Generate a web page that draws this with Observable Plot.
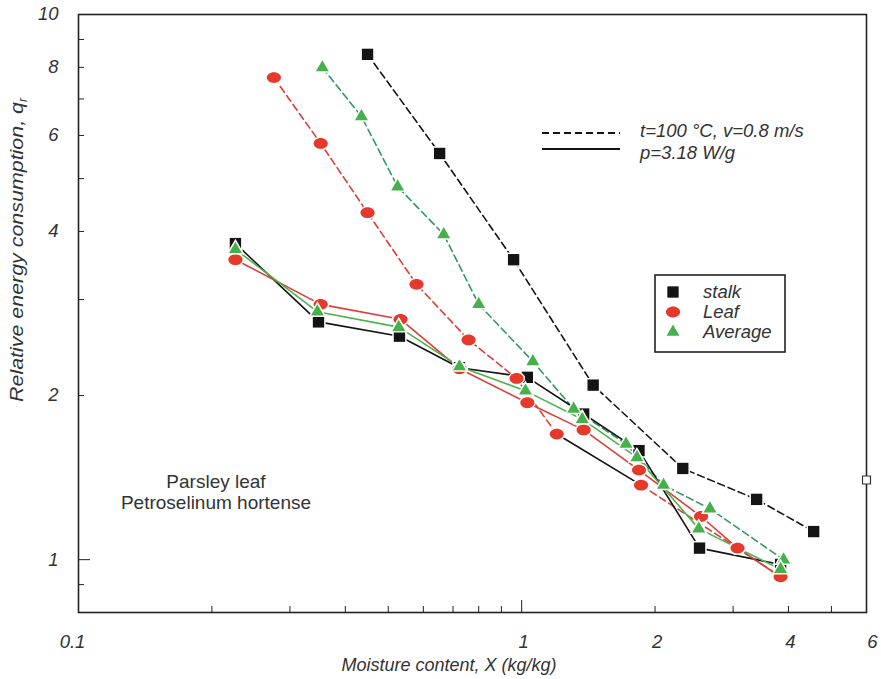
<!DOCTYPE html>
<html><head><meta charset="utf-8">
<script src="https://cdn.jsdelivr.net/npm/d3@7"></script>
<script src="https://cdn.jsdelivr.net/npm/@observablehq/plot@0.6"></script>
<style>body{margin:0;background:#fff} #chart{width:881px;height:679px}</style>
</head><body><div id="chart"></div>
<script>
// ---- data ----
const stalkSolidX = [0.226, 0.348, 0.530, 0.724, 1.03, 1.38, 1.84, 2.52, 3.84];
const stalkSolidY = [3.80, 2.73, 2.57, 2.25, 2.16, 1.85, 1.585, 1.05, 0.98];
const leafSolidX  = [0.226, 0.352, 0.533, 0.724, 1.03, 1.38, 1.84, 2.54, 3.07, 3.84];
const leafSolidY  = [3.55, 2.94, 2.76, 2.24, 1.94, 1.73, 1.46, 1.20, 1.05, 0.93];
const avgSolidX   = [0.226, 0.346, 0.528, 0.724, 1.02, 1.37, 1.82, 2.51, 3.84];
const avgSolidY   = [3.71, 2.85, 2.67, 2.26, 2.04, 1.81, 1.54, 1.14, 0.96];
const stalkDashedX = [0.449, 0.653, 0.959, 1.45, 2.31, 3.39, 4.56];
const stalkDashedY = [8.45, 5.56, 3.55, 2.09, 1.47, 1.29, 1.126];
const leafDashedX  = [0.276, 0.352, 0.449, 0.579, 0.759, 0.974, 1.20, 1.86, 3.07, 3.84];
const leafDashedY  = [7.66, 5.80, 4.33, 3.20, 2.53, 2.15, 1.70, 1.37, 1.05, 0.93];
const avgDashedX   = [0.355, 0.435, 0.525, 0.667, 0.800, 1.06, 1.31, 1.72, 2.09, 2.66, 3.90];
const avgDashedY   = [7.99, 6.50, 4.83, 3.95, 2.94, 2.31, 1.89, 1.63, 1.37, 1.24, 1.00];
const strayX = [6];
const strayY = [1.40];

const xTickLabelsLeft = [0.1];
const xTickLabelsMid = [1, 2, 4];
const xTickLabelsRight = [6];
const xMinorTicks = [0.2, 0.3, 0.4, 0.5, 0.6, 0.7, 0.8, 0.9, 2, 3, 4, 5];
const xMajorTicks = [1];
const yTickLabels = [1, 2, 4, 6, 8, 10];
const yMinorTicks = [0.9, 2, 3, 4, 5, 6, 7, 8, 9];
const yMajorTicks = [1];

const seriesNames = ["stalk", "Leaf", "Average"];
const lineLegend = ["t=100 \u00B0C, v=0.8 m/s", "p=3.18 W/g"];
const noteLines = ["Parsley leaf", "Petroselinum hortense"];
const xTitle = "Moisture content, X (kg/kg)";
const yTitle = "Relative energy consumption, q";
const yTitleSub = "r";

// ---- helpers ----
const pts = (xs, ys) => xs.map((x, i) => ({x, y: ys[i]}));
const BLACK = "#141414", RED = "#e5392c", REDLINE = "#dc3f36", GREEN = "#46b04c", GREENDASH = "#2f9a62", GREENLINE = "#4cb24f";
const FONT = "'Liberation Sans', Arial, sans-serif";
const TXT = "#333";

const ellipse = {
  draw(ctx, size) {
    const r = Math.sqrt(size / Math.PI), rx = r * 1.18, ry = r * 0.9, k = 0.5523;
    ctx.moveTo(rx, 0);
    ctx.bezierCurveTo(rx, ry * k, rx * k, ry, 0, ry);
    ctx.bezierCurveTo(-rx * k, ry, -rx, ry * k, -rx, 0);
    ctx.bezierCurveTo(-rx, -ry * k, -rx * k, -ry, 0, -ry);
    ctx.bezierCurveTo(rx * k, -ry, rx, -ry * k, rx, 0);
    ctx.closePath();
  }
};

const stalkSolid = pts(stalkSolidX, stalkSolidY);
const leafSolid = pts(leafSolidX, leafSolidY);
const avgSolid = pts(avgSolidX, avgSolidY);
const stalkDashed = pts(stalkDashedX, stalkDashedY);
const leafDashed = pts(leafDashedX, leafDashedY);
const avgDashed = pts(avgDashedX, avgDashedY);

const DASH = "7,4";
const halo = {stroke: "white", strokeWidth: 3, paintOrder: "stroke"};
const lblX = {tickSize: 0, tickPadding: 22, fontStyle: "italic", fontSize: 18.5, tickFormat: d => String(d), label: null, fill: TXT};

const chart = Plot.plot({
  width: 881, height: 679,
  marginLeft: 78, marginRight: 15, marginTop: 14, marginBottom: 67,
  x: {type: "log", domain: [0.1, 6]},
  y: {type: "log", domain: [0.8, 10]},
  style: {fontFamily: FONT, fontSize: "18px", color: TXT, background: "white"},
  marks: [
    Plot.axisX(xTickLabelsLeft, {...lblX, dx: -6}),
    Plot.axisX(xTickLabelsMid, {...lblX, dx: 2}),
    Plot.axisX(xTickLabelsRight, {...lblX, dx: 6}),
    Plot.axisX(xMinorTicks, {tickSize: -6, tickFormat: () => "", label: null, stroke: "#222"}),
    Plot.axisX(xMajorTicks, {tickSize: -12, tickFormat: () => "", label: null, stroke: "#222"}),
    Plot.axisY(yTickLabels, {tickSize: 0, tickPadding: 20, fontStyle: "italic", fontSize: 18.5, tickFormat: d => String(d), label: null, fill: TXT}),
    Plot.axisY(yMinorTicks, {tickSize: -6, tickFormat: () => "", label: null, stroke: "#222"}),
    Plot.axisY(yMajorTicks, {tickSize: -12, tickFormat: () => "", label: null, stroke: "#222"}),
    Plot.frame({stroke: "#222", strokeWidth: 1.6}),
    // dashed (convective) lines
    Plot.line(stalkDashed, {x: "x", y: "y", stroke: BLACK, strokeWidth: 1.6, strokeDasharray: DASH}),
    Plot.line(avgDashed, {x: "x", y: "y", stroke: GREENDASH, strokeWidth: 1.6, strokeDasharray: DASH}),
    Plot.line(leafDashed.slice(0, 7), {x: "x", y: "y", stroke: REDLINE, strokeWidth: 1.6, strokeDasharray: DASH}),
    Plot.line(leafDashed.slice(6, 8), {x: "x", y: "y", stroke: BLACK, strokeWidth: 1.6}),
    Plot.line(leafDashed.slice(7), {x: "x", y: "y", stroke: REDLINE, strokeWidth: 1.6, strokeDasharray: DASH}),
    // solid (microwave) lines
    Plot.line(stalkSolid, {x: "x", y: "y", stroke: BLACK, strokeWidth: 1.6}),
    Plot.line(leafSolid, {x: "x", y: "y", stroke: REDLINE, strokeWidth: 1.6}),
    Plot.line(avgSolid, {x: "x", y: "y", stroke: GREENLINE, strokeWidth: 1.6}),
    // markers
    Plot.dot(stalkDashed, {x: "x", y: "y", symbol: "square", r: 6.4, fill: BLACK, ...halo}),
    Plot.dot(stalkSolid, {x: "x", y: "y", symbol: "square", r: 6.4, fill: BLACK, ...halo}),
    Plot.dot(leafDashed, {x: "x", y: "y", symbol: ellipse, r: 6, fill: RED, ...halo}),
    Plot.dot(leafSolid, {x: "x", y: "y", symbol: ellipse, r: 6, fill: RED, ...halo}),
    Plot.dot(avgDashed, {x: "x", y: "y", symbol: "triangle", r: 4.8, fill: GREEN, ...halo}),
    Plot.dot(avgSolid, {x: "x", y: "y", symbol: "triangle", r: 4.8, fill: GREEN, ...halo}),
    Plot.dot(pts(strayX, strayY), {x: "x", y: "y", symbol: "square", r: 4.5, fill: "white", stroke: "#333", strokeWidth: 1.2})
  ]
});
document.getElementById("chart").appendChild(chart);

// ---- titles, legends and note (real SVG text) ----
const svg = d3.select(chart);
const g = svg.append("g").attr("font-family", FONT).attr("fill", TXT).attr("text-anchor", "start");

// x title
g.append("text").attr("x", 449).attr("y", 671).attr("text-anchor", "middle")
  .attr("font-size", 18).attr("font-style", "italic").text(xTitle);
// y title with subscript
const yt = g.append("text").attr("transform", "translate(23,250) rotate(-90)").attr("text-anchor", "middle")
  .attr("font-size", 19).attr("font-style", "italic");
yt.append("tspan").attr("textLength", 300).attr("lengthAdjust", "spacingAndGlyphs").text(yTitle);
yt.append("tspan").attr("font-size", 12).attr("dy", 4).text(yTitleSub);

// line style legend
const ll = g.append("g");
ll.append("line").attr("x1", 542).attr("x2", 620).attr("y1", 133).attr("y2", 133)
  .attr("stroke", BLACK).attr("stroke-width", 1.8).attr("stroke-dasharray", DASH);
ll.append("line").attr("x1", 542).attr("x2", 620).attr("y1", 149).attr("y2", 149)
  .attr("stroke", BLACK).attr("stroke-width", 1.8);
lineLegend.forEach((t, i) => ll.append("text").attr("x", 640).attr("y", 137 + i * 22)
  .attr("font-size", 18.5).attr("font-style", "italic").text(t));

// marker legend box
const lb = g.append("g");
lb.append("rect").attr("x", 655).attr("y", 275).attr("width", 130).attr("height", 77)
  .attr("fill", "white").attr("stroke", "#222").attr("stroke-width", 1.6);
const legSyms = [
  {sym: d3.symbolSquare, r: 6.4, fill: BLACK},
  {sym: ellipse, r: 6, fill: RED},
  {sym: d3.symbolTriangle, r: 4.8, fill: GREEN}
];
seriesNames.forEach((name, i) => {
  const cy = 292 + i * 20;
  const s = legSyms[i];
  lb.append("path").attr("transform", `translate(673,${cy})`)
    .attr("d", d3.symbol(s.sym, s.r * s.r * Math.PI)()).attr("fill", s.fill);
  lb.append("text").attr("x", 703).attr("y", cy + 6).attr("font-size", 18.5)
    .attr("font-style", "italic").text(name);
});

// note
noteLines.forEach((t, i) => g.append("text").attr("x", 216).attr("y", 488 + i * 21)
  .attr("text-anchor", "middle").attr("font-size", 19).text(t));
</script>
</body></html>
